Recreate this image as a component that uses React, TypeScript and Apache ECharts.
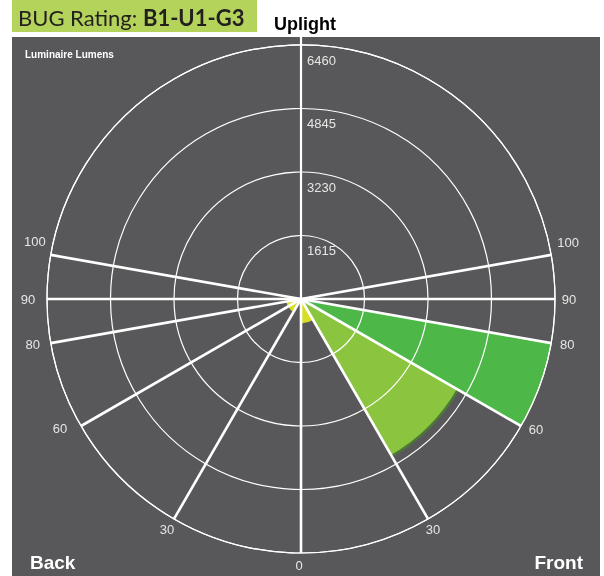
import React, { useEffect, useRef } from 'react';
import * as echarts from 'echarts';

// ---- data ----
const RING_VALUES = [1615, 3230, 4845, 6460];
const MAX_LUMENS = 6460;
const ZONE_SIDE = ['front', 'front', 'front', 'back', 'back'];
const ZONE_FROM = [0, 30, 60, 30, 60];
const ZONE_TO = [30, 60, 80, 60, 80];
const ZONE_LUMENS = [620, 4580, 6460, 380, 380];
const RAY_ANGLES = [0, 30, 60, 80, 90, 100];
const TITLE_PREFIX = 'BUG Rating: ';
const RATING = 'B1-U1-G3';

// ---- styles ----
const ZONE_COLORS = ['#d6de26', '#8bc43f', '#4db848', '#d6de26', '#d6de26'];
const ZONE_EDGES: (string | null)[] = [null, '#4c7a36', null, null, null];
const PANEL = '#58585a';
const LABEL_COLOR = '#e6e6e6';
const FRONT_OFFSETS: Record<number, [number, number]> = {
  0: [-2, 12], 30: [5, 11], 60: [15, 3], 80: [16, 1], 90: [14, 0], 100: [17, -12],
};
const BACK_OFFSETS: Record<number, [number, number]> = {
  0: [-2, 12], 30: [-7, 11], 60: [-21, 2], 80: [-18, 1], 90: [-19, 0], 100: [-16, -13],
};

const toAxisAngle = (side: string, deg: number) => (side === 'front' ? 180 - deg : 180 + deg);

function sectorAngles(cx: number, cy: number, p1: number[], p2: number[]) {
  const s = Math.atan2(p1[1] - cy, p1[0] - cx);
  const e = Math.atan2(p2[1] - cy, p2[0] - cx);
  let d = e - s;
  while (d <= -Math.PI) d += 2 * Math.PI;
  while (d > Math.PI) d -= 2 * Math.PI;
  const start = d < 0 ? e : s;
  return [start, start + Math.abs(d)];
}

export default function App() {
  const ref = useRef<HTMLDivElement>(null);
  useEffect(() => {
    if (!ref.current) return;
    const chart = echarts.init(ref.current, undefined, { renderer: 'svg' });

    const zoneData = ZONE_LUMENS.map((v, i) => [
      v,
      toAxisAngle(ZONE_SIDE[i], ZONE_FROM[i]),
      toAxisAngle(ZONE_SIDE[i], ZONE_TO[i]),
      i,
    ]);
    const rayData: number[][] = [];
    RAY_ANGLES.forEach((a) => {
      rayData.push([MAX_LUMENS, toAxisAngle('front', a), a, 1]);
      if (a !== 0) rayData.push([MAX_LUMENS, toAxisAngle('back', a), a, -1]);
    });
    const ringData = RING_VALUES.map((v) => [v, 0]);

    const font = '"Liberation Sans", Arial, Helvetica, sans-serif';

    chart.setOption({
      animation: false,
      polar: { center: [301, 299], radius: 254 },
      angleAxis: {
        type: 'value', min: 0, max: 360, startAngle: 90, clockwise: true,
        axisLine: { show: true, lineStyle: { color: '#ffffff', width: 1.2 } },
        axisTick: { show: false }, axisLabel: { show: false }, splitLine: { show: false },
      },
      radiusAxis: {
        type: 'value', min: 0, max: MAX_LUMENS, interval: 1615,
        axisLine: { show: false }, axisTick: { show: false }, axisLabel: { show: false },
        splitLine: { show: true, lineStyle: { color: '#ffffff', width: 1.2 } },
      },
      graphic: [
        { type: 'rect', z: -10, shape: { x: 12, y: 37, width: 588, height: 539 }, style: { fill: PANEL } },
        { type: 'rect', z: -10, shape: { x: 12, y: 0, width: 245, height: 32 }, style: { fill: '#b3d35b' } },
        {
          type: 'text', z: 10, x: 18, y: 17,
          style: {
            text: `{r|${TITLE_PREFIX}}{b|${RATING}}`, verticalAlign: 'middle', align: 'left',
            rich: {
              r: { fontFamily: 'Lato', fontSize: 22, fill: '#231f20', color: '#231f20' },
              b: { fontFamily: 'Lato', fontSize: 22, fontWeight: 'bold', fill: '#231f20', color: '#231f20' },
            },
          },
        },
        {
          type: 'text', z: 10, x: 305, y: 24,
          style: { text: 'Uplight', font: `bold 18px ${font}`, fill: '#000', align: 'center', verticalAlign: 'middle' },
        },
        {
          type: 'text', z: 10, x: 25, y: 54,
          style: { text: 'Luminaire Lumens', font: `bold 10px ${font}`, fill: '#fff', align: 'left', verticalAlign: 'middle' },
        },
        {
          type: 'text', z: 10, x: 30, y: 562,
          style: { text: 'Back', font: `bold 19px ${font}`, fill: '#fff', align: 'left', verticalAlign: 'middle' },
        },
        {
          type: 'text', z: 10, x: 583, y: 562,
          style: { text: 'Front', font: `bold 19px ${font}`, fill: '#fff', align: 'right', verticalAlign: 'middle' },
        },
      ],
      series: [
        {
          type: 'custom', coordinateSystem: 'polar', z: -5, silent: true,
          data: zoneData,
          renderItem: (params: any, api: any) => {
            const cs = params.coordSys;
            const cx = cs.cx, cy = cs.cy;
            const v = api.value(0), a1 = api.value(1), a2 = api.value(2), idx = api.value(3);
            const p1 = api.coord([v, a1]);
            const p2 = api.coord([v, a2]);
            const r = Math.hypot(p1[0] - cx, p1[1] - cy);
            const [s, e] = sectorAngles(cx, cy, p1, p2);
            const children: any[] = [];
            const edge = ZONE_EDGES[idx];
            if (edge) {
              children.push({
                type: 'sector',
                shape: { cx, cy, r0: 0, r: r + 2.5, startAngle: s, endAngle: e, clockwise: true },
                style: { fill: edge },
              });
            }
            children.push({
              type: 'sector',
              shape: { cx, cy, r0: 0, r, startAngle: s, endAngle: e, clockwise: true },
              style: { fill: ZONE_COLORS[idx] },
            });
            return { type: 'group', children };
          },
        },
        {
          type: 'custom', coordinateSystem: 'polar', z: 3, silent: true,
          data: rayData,
          renderItem: (params: any, api: any) => {
            const cs = params.coordSys;
            const cx = cs.cx, cy = cs.cy;
            const v = api.value(0), a = api.value(1), deg = api.value(2), side = api.value(3);
            const p = api.coord([v, a]);
            const off = side > 0 ? FRONT_OFFSETS[deg] : BACK_OFFSETS[deg];
            return {
              type: 'group',
              children: [
                {
                  type: 'line',
                  shape: { x1: cx, y1: cy, x2: p[0], y2: p[1] },
                  style: { stroke: '#ffffff', lineWidth: 2.6 },
                },
                {
                  type: 'text',
                  x: p[0] + off[0], y: p[1] + off[1],
                  style: {
                    text: String(deg), font: `13px ${font}`, fill: LABEL_COLOR,
                    align: 'center', verticalAlign: 'middle',
                  },
                },
              ],
            };
          },
        },
        {
          type: 'custom', coordinateSystem: 'polar', z: 3, silent: true,
          data: ringData,
          renderItem: (params: any, api: any) => {
            const cs = params.coordSys;
            const cx = cs.cx, cy = cs.cy;
            const v = api.value(0), a = api.value(1);
            const p = api.coord([v, a]);
            const children: any[] = [
              {
                type: 'text', x: p[0] + 6, y: p[1] + 15,
                style: { text: String(v), font: `13px ${font}`, fill: LABEL_COLOR, align: 'left', verticalAlign: 'middle' },
              },
            ];
            if (v === MAX_LUMENS) {
              const top = api.coord([v * 1.033, a]);
              children.push({
                type: 'line',
                shape: { x1: cx, y1: cy, x2: top[0], y2: top[1] },
                style: { stroke: '#ffffff', lineWidth: 2.2 },
              });
            }
            return { type: 'group', children };
          },
        },
      ],
    });
    return () => chart.dispose();
  }, []);
  return <div ref={ref} style={{ position: 'fixed', left: 0, top: 0, width: 604, height: 576 }} />;
}
